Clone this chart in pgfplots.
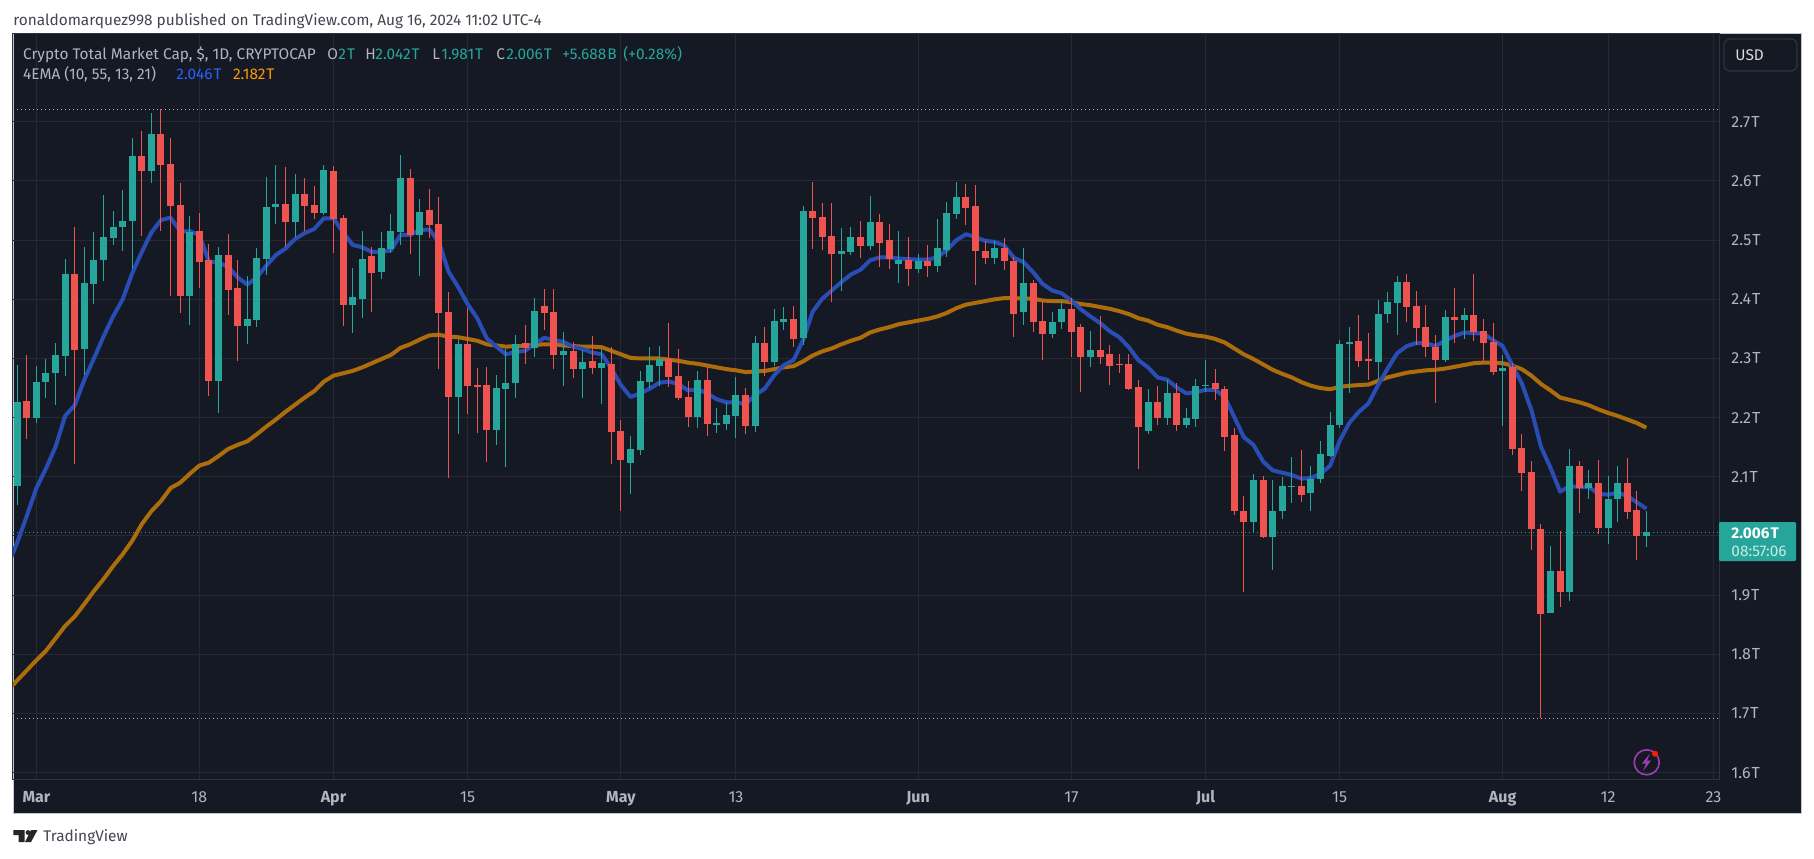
\documentclass[border=0pt]{standalone}
\usepackage{fontspec}
\usepackage{pgfplots}
\usepackage{pgfplotstable}
\pgfplotsset{compat=1.18}
\setmainfont{Fira Sans}
\definecolor{panel}{HTML}{151924}
\definecolor{gridc}{HTML}{252934}
\definecolor{sepc}{HTML}{2E323D}
\definecolor{framec}{HTML}{C4C6CE}
\definecolor{txt}{HTML}{B2B5BE}
\definecolor{hdr}{HTML}{434651}
\definecolor{up}{HTML}{26A69A}
\definecolor{down}{HTML}{EF5350}
\definecolor{fastc}{HTML}{2A4DB5}
\definecolor{slowc}{HTML}{AE6D0C}
\definecolor{bluet}{HTML}{2962FF}
\definecolor{oranget}{HTML}{FF9800}
\definecolor{iconp}{HTML}{A03CB4}
\pgfplotstableread{
d h t b l
-2 2.289 2.227 2.085 2.053
0 2.287 2.260 2.200 2.191
1 2.299 2.276 2.260 2.233
2 2.326 2.306 2.276 2.222
3 2.468 2.443 2.304 2.270
5 2.488 2.428 2.316 2.272
6 2.514 2.466 2.426 2.392
7 2.576 2.505 2.466 2.431
8 2.549 2.522 2.504 2.492
9 2.585 2.532 2.522 2.482
10 2.672 2.642 2.532 2.451
12 2.715 2.679 2.617 2.596
16 2.541 2.514 2.406 2.357
19 2.488 2.475 2.262 2.208
22 2.439 2.367 2.355 2.325
23 2.487 2.470 2.365 2.353
24 2.607 2.556 2.468 2.441
25 2.627 2.561 2.556 2.527
27 2.612 2.578 2.531 2.505
30 2.627 2.618 2.546 2.542
33 2.453 2.404 2.390 2.343
34 2.515 2.468 2.400 2.368
36 2.514 2.487 2.446 2.434
37 2.544 2.515 2.485 2.478
38 2.644 2.605 2.514 2.492
40 2.569 2.547 2.509 2.439
44 2.335 2.325 2.235 2.173
48 2.272 2.250 2.179 2.154
49 2.316 2.258 2.248 2.116
50 2.339 2.324 2.258 2.233
52 2.402 2.380 2.317 2.302
55 2.344 2.312 2.306 2.253
57 2.314 2.294 2.282 2.233
59 2.316 2.292 2.284 2.223
62 2.169 2.147 2.123 2.071
63 2.279 2.262 2.145 2.137
64 2.319 2.289 2.260 2.250
65 2.321 2.299 2.287 2.253
69 2.279 2.263 2.201 2.182
71 2.216 2.191 2.189 2.174
72 2.225 2.204 2.189 2.179
73 2.268 2.238 2.203 2.165
75 2.338 2.327 2.186 2.176
77 2.383 2.363 2.294 2.287
78 2.387 2.366 2.361 2.348
80 2.557 2.549 2.334 2.322
84 2.520 2.481 2.476 2.414
85 2.522 2.505 2.480 2.475
87 2.574 2.530 2.490 2.483
90 2.516 2.467 2.459 2.427
92 2.477 2.465 2.452 2.445
94 2.536 2.486 2.457 2.447
95 2.565 2.546 2.484 2.472
96 2.599 2.573 2.545 2.536
100 2.498 2.487 2.469 2.460
103 2.487 2.427 2.378 2.357
106 2.378 2.362 2.342 2.335
107 2.398 2.384 2.361 2.349
110 2.346 2.315 2.303 2.286
116 2.249 2.226 2.178 2.173
118 2.263 2.241 2.199 2.188
120 2.217 2.199 2.188 2.183
121 2.266 2.254 2.197 2.185
122 2.297 2.256 2.254 2.243
127 2.104 2.094 2.023 2.006
129 2.094 2.043 1.999 1.942
130 2.099 2.084 2.042 2.028
131 2.133 2.085 2.084 2.055
133 2.118 2.097 2.072 2.043
134 2.161 2.138 2.096 2.089
135 2.209 2.188 2.136 2.133
136 2.332 2.325 2.187 2.183
137 2.353 2.328 2.325 2.242
140 2.399 2.375 2.294 2.265
141 2.412 2.396 2.375 2.360
142 2.439 2.429 2.394 2.340
147 2.382 2.370 2.298 2.294
149 2.385 2.374 2.365 2.333
153 2.306 2.284 2.279 2.186
158 1.983 1.941 1.870 1.870
160 2.147 2.119 1.906 1.890
162 2.112 2.090 2.081 2.063
164 2.102 2.063 2.014 1.987
165 2.119 2.090 2.063 2.024
168 2.042 2.007 2.000 1.982
}\upcandles
\pgfplotstableread{
d h t b l
-1 2.306 2.228 2.200 2.164
4 2.522 2.443 2.314 2.122
11 2.684 2.642 2.617 2.507
13 2.721 2.679 2.627 2.515
14 2.672 2.629 2.558 2.406
15 2.596 2.559 2.406 2.377
17 2.546 2.515 2.463 2.419
18 2.493 2.466 2.262 2.237
20 2.510 2.475 2.416 2.374
21 2.466 2.419 2.355 2.296
26 2.623 2.561 2.531 2.488
28 2.605 2.578 2.558 2.515
29 2.591 2.559 2.546 2.536
31 2.625 2.617 2.536 2.478
32 2.542 2.537 2.390 2.355
35 2.488 2.473 2.444 2.379
39 2.620 2.605 2.509 2.476
41 2.586 2.551 2.525 2.504
42 2.573 2.527 2.377 2.282
43 2.412 2.379 2.235 2.098
45 2.385 2.324 2.253 2.206
46 2.284 2.255 2.253 2.174
47 2.285 2.255 2.179 2.125
51 2.356 2.326 2.317 2.290
53 2.417 2.388 2.377 2.348
54 2.417 2.378 2.306 2.282
56 2.328 2.312 2.282 2.267
58 2.338 2.295 2.284 2.274
60 2.319 2.290 2.176 2.122
61 2.196 2.177 2.128 2.042
66 2.360 2.299 2.268 2.252
67 2.316 2.270 2.233 2.230
68 2.262 2.235 2.201 2.184
70 2.285 2.263 2.189 2.169
74 2.250 2.238 2.186 2.172
76 2.353 2.327 2.294 2.270
79 2.388 2.366 2.333 2.319
81 2.599 2.549 2.537 2.485
82 2.562 2.539 2.505 2.483
83 2.562 2.507 2.476 2.395
86 2.532 2.505 2.490 2.469
88 2.545 2.530 2.496 2.454
89 2.527 2.500 2.468 2.451
91 2.506 2.467 2.452 2.423
93 2.492 2.465 2.457 2.437
97 2.595 2.573 2.555 2.526
98 2.594 2.557 2.481 2.425
99 2.499 2.482 2.469 2.460
101 2.504 2.487 2.464 2.449
102 2.471 2.465 2.376 2.337
104 2.432 2.427 2.362 2.344
105 2.395 2.364 2.342 2.297
108 2.403 2.384 2.344 2.302
109 2.359 2.354 2.302 2.243
111 2.371 2.315 2.303 2.290
112 2.322 2.307 2.288 2.256
113 2.307 2.291 2.289 2.275
114 2.307 2.290 2.249 2.246
115 2.264 2.251 2.185 2.114
117 2.253 2.226 2.199 2.187
119 2.259 2.241 2.188 2.178
123 2.283 2.259 2.248 2.229
124 2.254 2.249 2.168 2.144
125 2.182 2.170 2.042 2.035
126 2.068 2.043 2.023 1.905
128 2.101 2.094 1.999 1.996
132 2.146 2.085 2.070 2.057
138 2.374 2.330 2.296 2.286
139 2.343 2.299 2.296 2.264
143 2.443 2.429 2.387 2.362
144 2.414 2.389 2.352 2.323
145 2.390 2.353 2.320 2.303
146 2.340 2.320 2.298 2.225
148 2.419 2.370 2.365 2.326
150 2.443 2.374 2.345 2.330
151 2.367 2.347 2.326 2.296
152 2.360 2.328 2.277 2.272
154 2.292 2.286 2.147 2.137
155 2.173 2.149 2.107 2.076
156 2.127 2.108 2.012 1.977
157 2.021 2.012 1.869 1.692
159 2.009 1.941 1.906 1.880
161 2.127 2.119 2.081 2.039
163 2.129 2.090 2.014 2.004
166 2.132 2.090 2.041 2.029
167 2.076 2.044 2.000 1.960
}\downcandles
\pgfplotstableread{
d fast slow
-3 1.950 1.739
-2 1.989 1.756
-1 2.034 1.773
0 2.081 1.790
1 2.114 1.806
2 2.151 1.827
3 2.203 1.848
4 2.221 1.864
5 2.264 1.885
6 2.300 1.907
7 2.337 1.927
8 2.371 1.949
9 2.400 1.969
10 2.444 1.992
11 2.480 2.020
12 2.513 2.042
13 2.534 2.059
14 2.538 2.081
15 2.515 2.090
16 2.515 2.105
17 2.509 2.119
18 2.464 2.124
19 2.462 2.135
20 2.455 2.147
21 2.437 2.154
22 2.425 2.160
23 2.437 2.172
24 2.457 2.185
25 2.475 2.197
26 2.486 2.210
27 2.502 2.222
28 2.512 2.234
29 2.519 2.245
30 2.537 2.261
31 2.537 2.271
32 2.513 2.275
33 2.492 2.279
34 2.488 2.285
35 2.480 2.292
36 2.480 2.299
37 2.483 2.306
38 2.509 2.318
39 2.509 2.324
40 2.517 2.332
41 2.518 2.339
42 2.497 2.340
43 2.447 2.337
44 2.421 2.336
45 2.392 2.333
46 2.368 2.330
47 2.334 2.324
48 2.320 2.322
49 2.307 2.320
50 2.311 2.321
51 2.313 2.321
52 2.325 2.323
53 2.335 2.324
54 2.331 2.324
55 2.328 2.322
56 2.320 2.321
57 2.316 2.320
58 2.310 2.320
59 2.307 2.319
60 2.283 2.313
61 2.255 2.307
62 2.235 2.301
63 2.241 2.300
64 2.249 2.300
65 2.259 2.300
66 2.261 2.298
67 2.257 2.296
68 2.246 2.293
69 2.248 2.291
70 2.241 2.288
71 2.231 2.285
72 2.226 2.282
73 2.226 2.280
74 2.223 2.277
75 2.238 2.278
76 2.249 2.279
77 2.272 2.282
78 2.289 2.285
79 2.297 2.287
80 2.331 2.295
81 2.379 2.305
82 2.401 2.312
83 2.415 2.317
84 2.429 2.324
85 2.442 2.330
86 2.450 2.335
87 2.466 2.344
88 2.471 2.349
89 2.471 2.353
90 2.469 2.358
91 2.468 2.361
92 2.467 2.364
93 2.467 2.367
94 2.471 2.371
95 2.483 2.377
96 2.500 2.385
97 2.510 2.391
98 2.505 2.394
99 2.499 2.397
100 2.497 2.400
101 2.491 2.402
102 2.470 2.402
103 2.463 2.401
104 2.446 2.401
105 2.426 2.398
106 2.415 2.397
107 2.410 2.397
108 2.398 2.395
109 2.383 2.392
110 2.371 2.390
111 2.360 2.387
112 2.346 2.384
113 2.336 2.380
114 2.319 2.375
115 2.297 2.368
116 2.285 2.364
117 2.268 2.357
118 2.264 2.353
119 2.251 2.347
120 2.241 2.342
121 2.243 2.339
122 2.247 2.337
123 2.247 2.333
124 2.235 2.327
125 2.201 2.317
126 2.167 2.307
127 2.154 2.299
128 2.126 2.290
129 2.111 2.281
130 2.107 2.274
131 2.103 2.268
132 2.097 2.260
133 2.098 2.254
134 2.105 2.250
135 2.119 2.248
136 2.161 2.252
137 2.191 2.254
138 2.210 2.255
139 2.224 2.256
140 2.255 2.262
141 2.283 2.268
142 2.309 2.272
143 2.321 2.276
144 2.326 2.278
145 2.326 2.280
146 2.321 2.281
147 2.330 2.283
148 2.338 2.286
149 2.344 2.289
150 2.343 2.292
151 2.342 2.293
152 2.331 2.293
153 2.321 2.292
154 2.289 2.288
155 2.258 2.282
156 2.213 2.271
157 2.151 2.257
158 2.115 2.246
159 2.075 2.234
160 2.084 2.230
161 2.083 2.226
162 2.083 2.221
163 2.071 2.214
164 2.070 2.208
165 2.073 2.203
166 2.068 2.197
167 2.057 2.191
168 2.046 2.183
}\emas
\newcommand{\sz}{\fontsize{7.7pt}{9pt}\selectfont}
\newcommand{\szt}{\fontsize{8pt}{9pt}\selectfont}
\newcommand{\Tt}{\kern0.5pt T}
\begin{document}
\begin{tikzpicture}
\fill[white] (0,0) rectangle (907pt,429pt);
\begin{scope}[x=0.5pt,y=-0.5pt,yshift=429pt]
\fill[panel] (13,34) rectangle (1801,813);
\draw[framec,line width=0.5pt] (13,34) rectangle (1801,813);
\end{scope}
\begin{axis}[
  at={(6.5pt,39.5pt)},anchor=south west,scale only axis,width=853pt,height=372.5pt,
  xmin=-2.442,xmax=175.58,ymin=1.5893,ymax=2.8484,
  xtick={0,17,31,45,61,73,92,108,122,136,153,164,175},
  xticklabels={\textbf{Mar},18,\textbf{Apr},15,\textbf{May},13,\textbf{Jun},17,\textbf{Jul},15,\textbf{Aug},12,23},
  ytick={1.6,1.7,1.8,1.9,2.0,2.1,2.2,2.3,2.4,2.5,2.6,2.7},
  yticklabels={1.6\Tt,1.7\Tt,1.8\Tt,1.9\Tt,,2.1\Tt,2.2\Tt,2.3\Tt,2.4\Tt,2.5\Tt,2.6\Tt,2.7\Tt},
  ytick pos=right,xtick pos=bottom,
  major tick length=0pt,
  grid=major,grid style={gridc,line width=0.5pt},
  axis line style={sepc,line width=0.5pt},
  xticklabel style={font=\szt,text=txt,inner sep=0pt,anchor=base,yshift=-11.75pt},
  yticklabel style={font=\szt,text=txt,inner sep=0pt,anchor=west,xshift=6pt},
  error bars/error mark=none,
]
\addplot[txt,line width=0.5pt,dash pattern=on 0.6pt off 1.4pt,forget plot] coordinates {(-2.442,2.721)(175.58,2.721)};
\addplot[txt,line width=0.5pt,dash pattern=on 0.6pt off 1.4pt,forget plot] coordinates {(-2.442,1.692)(175.58,1.692)};
\addplot[up,line width=0.5pt,dash pattern=on 0.6pt off 1.4pt,forget plot] coordinates {(-2.442,2.0055)(175.58,2.0055)};
\addplot[slowc,line width=2pt,line join=round,no marks] table[x=d,y=slow]{\emas};
\addplot[fastc,line width=2pt,line join=round,no marks] table[x=d,y=fast]{\emas};
% wicks
\addplot[draw=none,mark=none,error bars/.cd,y dir=both,y explicit,error bar style={draw=up,line width=0.5pt,solid}]
  table[x=d,y expr=(\thisrow{h}+\thisrow{l})/2,y error expr=(\thisrow{h}-\thisrow{l})/2]{\upcandles};
\addplot[draw=none,mark=none,error bars/.cd,y dir=both,y explicit,error bar style={draw=down,line width=0.5pt,solid}]
  table[x=d,y expr=(\thisrow{h}+\thisrow{l})/2,y error expr=(\thisrow{h}-\thisrow{l})/2]{\downcandles};
% bodies
\addplot[draw=none,mark=none,error bars/.cd,y dir=both,y explicit,error bar style={draw=up,line width=3.5pt,solid}]
  table[x=d,y expr=(\thisrow{t}+\thisrow{b})/2,y error expr=(\thisrow{t}-\thisrow{b})/2]{\upcandles};
\addplot[draw=none,mark=none,error bars/.cd,y dir=both,y explicit,error bar style={draw=down,line width=3.5pt,solid}]
  table[x=d,y expr=(\thisrow{t}+\thisrow{b})/2,y error expr=(\thisrow{t}-\thisrow{b})/2]{\downcandles};
\end{axis}
\begin{scope}[x=0.5pt,y=-0.5pt,yshift=429pt,every node/.style={font=\sz,inner sep=0pt,anchor=base west}]
\node[text=hdr] at (13,25.5) {ronaldomarquez998 published on TradingView.com, Aug 16, 2024 11:02 UTC-4};
\node[text=txt] at (22.7,59.3) {Crypto Total Market Cap, \$, 1D, CRYPTOCAP};
\node[text=txt] at (327,59.3) {O};
\node[text=up] at (338,59.3) {2\Tt};
\node[text=txt] at (365,59.3) {H};
\node[text=up] at (375,59.3) {2.042\Tt};
\node[text=txt] at (432,59.3) {L};
\node[text=up] at (441,59.3) {1.981\Tt};
\node[text=txt] at (496,59.3) {C};
\node[text=up] at (506,59.3) {2.006\Tt};
\node[text=up] at (562,59.3) {+5.688\kern0.5pt B};
\node[text=up] at (623,59.3) {(+0.28\%)};
\node[text=txt] at (22.7,80) {4EMA (10, 55, 13, 21)};
\node[text=bluet] at (176,80) {2.046\Tt};
\node[text=oranget] at (232.7,80) {2.182\Tt};
% USD button
\draw[sepc,line width=0.6pt,rounded corners=3pt,fill=panel] (1724,39) rectangle (1797,71);
\node[text=white!85!black] at (1735,60.5) {USD};
% price label
\fill[up,rounded corners=0.6pt] (1719,522) rectangle (1796,561);
\node[text=white] at (1731,538) {\textbf{2.006\Tt}};
\node[text=white!75!up] at (1731,556) {08:57:06};
% icon
\draw[iconp,line width=0.8pt] (1646.7,762.3) circle (12.5);
\fill[iconp] (1650,753.5)--(1642,763.5)--(1646,763.5)--(1643,771)--(1651,760.5)--(1647,760.5)--cycle;
\fill[red!80!orange] (1655,753.7) circle (3);
% logo
\fill[black!85] (13.4,830)--(24.5,830)--(24.5,842)--(18.5,842)--(18.5,835)--(13.4,835)--cycle;
\fill[black!85] (28,832.5) circle (2.4);
\fill[black!85] (31,830)--(37.5,830)--(31,842)--(25,842)--cycle;
\node[text=hdr] at (43,841.7) {TradingView};
\end{scope}
\end{tikzpicture}
\end{document}
